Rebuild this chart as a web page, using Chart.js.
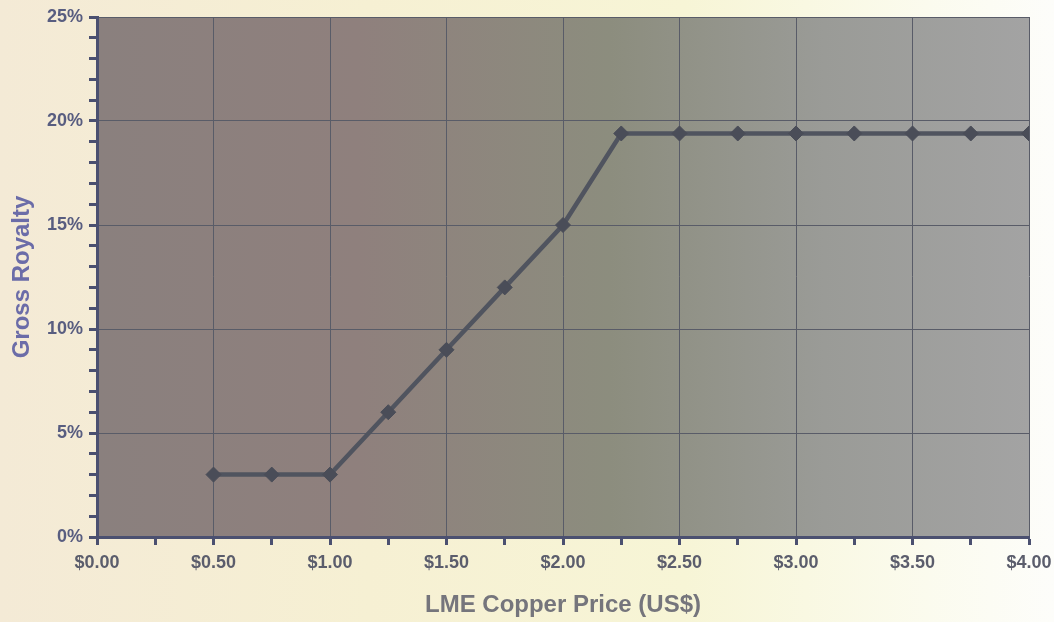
<!DOCTYPE html>
<html>
<head>
<meta charset="utf-8">
<title>Gross Royalty vs LME Copper Price</title>
<script src="https://cdn.jsdelivr.net/npm/chart.js@4/dist/chart.umd.min.js"></script>
<style>
  html, body { margin: 0; padding: 0; }
  body {
    width: 1054px; height: 622px; overflow: hidden;
    background: linear-gradient(to right, #f4ead6 0%, #f6f0d3 35%, #f7f5d6 65%, #fbfbee 88%, #fdfdfa 100%);
  }
  #wrap { position: relative; width: 1054px; height: 622px; }
</style>
</head>
<body>
<div id="wrap"><canvas id="royaltyChart" width="1054" height="622"></canvas></div>
<script>
// copper price (US$/lb) and gross royalty rate (%)
const prices = [0.50, 0.75, 1.00, 1.25, 1.50, 1.75, 2.00, 2.25, 2.50, 2.75, 3.00, 3.25, 3.50, 3.75, 4.00];
const royalty = [3.0, 3.0, 3.0, 6.0, 9.0, 12.0, 15.0, 19.4, 19.4, 19.4, 19.4, 19.4, 19.4, 19.4, 19.4];
const xTickLabels = ["$0.00", "$0.50", "$1.00", "$1.50", "$2.00", "$2.50", "$3.00", "$3.50", "$4.00"];
const yTickLabels = ["0%", "5%", "10%", "15%", "20%", "25%"];

const axisColor = "#4b5070";
const gridColor = "#595c68";

// shaded plot area, mauve on the left fading to grey on the right
const plotBackground = {
  id: "plotBackground",
  beforeDraw(chart) {
    const { ctx, chartArea: a } = chart;
    const g = ctx.createLinearGradient(a.left, 0, a.right, 0);
    g.addColorStop(0.00, "#8a807e");
    g.addColorStop(0.28, "#8f807d");
    g.addColorStop(0.55, "#8c8d7e");
    g.addColorStop(0.78, "#9a9b97");
    g.addColorStop(1.00, "#a3a3a3");
    ctx.save();
    ctx.fillStyle = g;
    ctx.fillRect(a.left, a.top, a.right - a.left, a.bottom - a.top);
    ctx.restore();
  }
};

const points = prices.map((p, i) => ({ x: p, y: royalty[i] }));

new Chart(document.getElementById("royaltyChart"), {
  type: "line",
  data: {
    datasets: [{
      data: points,
      borderColor: "#50545f",
      borderWidth: 4.5,
      pointStyle: "rectRot",
      pointRadius: 7.5,
      pointBackgroundColor: "#4a4d58",
      pointBorderColor: "#4a4d58",
      pointBorderWidth: 1,
      tension: 0
    }]
  },
  options: {
    responsive: false,
    animation: false,
    layout: { padding: { top: 17, right: 25, left: 0, bottom: 0 } },
    plugins: { legend: { display: false }, tooltip: { enabled: false } },
    scales: {
      x: {
        type: "linear",
        min: 0,
        max: 4,
        afterFit(scale) {
          scale.height = 85;
          // let the last label hang into the right margin
          scale.paddingLeft = 0;
          scale.paddingRight = 0;
        },
        border: { color: axisColor, width: 3 },
        grid: {
          color: ctx => (Math.round(ctx.tick.value * 100) % 50 === 0 ? gridColor : "rgba(0,0,0,0)"),
          tickColor: axisColor,
          tickWidth: 3,
          tickLength: 8,
          lineWidth: 1
        },
        ticks: {
          stepSize: 0.25,
          autoSkip: false,
          maxRotation: 0,
          padding: 7,
          color: "#5b5d6c",
          font: { family: "Liberation Sans, Arial", size: 18, weight: "bold" },
          callback: v => {
            const i = Math.round(v * 100);
            return i % 50 === 0 ? xTickLabels[i / 50] : "";
          }
        },
        title: {
          display: true,
          text: "LME Copper Price (US$)",
          color: "#75757c",
          padding: { top: 4, bottom: 2 },
          font: { family: "Liberation Sans, Arial", size: 24, weight: "bold" }
        }
      },
      y: {
        min: 0,
        max: 25,
        afterFit(scale) { scale.width = 97; },
        border: { color: axisColor, width: 3 },
        grid: {
          color: ctx => (ctx.tick.value % 5 === 0 ? gridColor : "rgba(0,0,0,0)"),
          tickColor: axisColor,
          tickWidth: 3,
          tickLength: 8,
          lineWidth: 1
        },
        ticks: {
          stepSize: 1,
          autoSkip: false,
          padding: 6,
          color: "#585d80",
          font: { family: "Liberation Sans, Arial", size: 18, weight: "bold" },
          callback: v => (v % 5 === 0 ? yTickLabels[v / 5] : "")
        },
        title: {
          display: true,
          text: "Gross Royalty",
          color: "#6b6ca8",
          padding: { top: 8, bottom: 0 },
          font: { family: "Liberation Sans, Arial", size: 24, weight: "bold" }
        }
      }
    }
  },
  plugins: [plotBackground]
});
</script>
</body>
</html>
